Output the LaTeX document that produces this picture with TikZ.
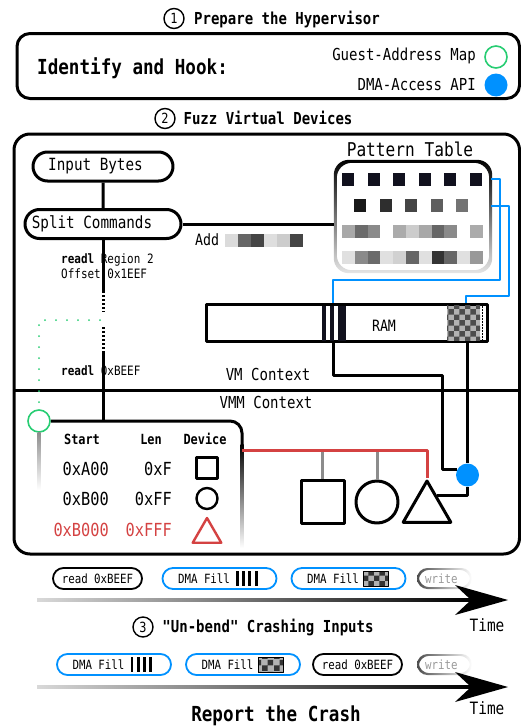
\documentclass[tikz,border=0pt]{standalone}
\usepackage{fontspec}
\setmainfont{DejaVu Sans Mono}[FakeStretch=0.85, Ligatures=TeXOff]
\usetikzlibrary{shapes.misc,shapes.geometric,patterns,calc}
\definecolor{hookgreen}{RGB}{40,205,115}
\definecolor{dmablue}{RGB}{0,145,255}
\definecolor{crashred}{RGB}{212,66,66}
\definecolor{patdark}{RGB}{17,17,30}
\tikzset{
  num/.style={circle, draw, line width=1.4pt, inner sep=0pt, minimum size=20pt,
    font=\fontsize{14}{14}\selectfont},
  heading/.style={font=\fontsize{16.5}{18}\selectfont\bfseries, inner sep=0pt, anchor=mid},
  bighead/.style={font=\fontsize{20.7}{22}\selectfont\bfseries, inner sep=0pt},
  txt/.style={font=\fontsize{16.5}{18}\selectfont, inner sep=0pt},
  cmdtxt/.style={font=\fontsize{12.9}{14}\selectfont, inner sep=0pt, anchor=mid west},
  pill/.style={rounded rectangle, draw, line width=3pt, minimum height=29pt,
    inner sep=0pt, font=\fontsize{16.8}{18}\selectfont},
  event/.style={rounded rectangle, draw, line width=1.8pt, minimum height=21pt,
    inner sep=0pt, font=\fontsize{12.7}{14}\selectfont},
  dmaevent/.style={event, draw=dmablue, minimum width=114pt},
  readevent/.style={event, minimum width=89pt},
  hd/.style={font=\fontsize{14}{15}\selectfont\bfseries, inner sep=0pt, anchor=mid},
  cell/.style={font=\fontsize{18}{19}\selectfont, inner sep=0pt, anchor=mid east},
  conn/.style={line width=3pt},
  bluelink/.style={line width=2.8pt, draw=dmablue},
  devshape/.style={draw, line width=3pt, inner sep=0pt},
  hookmark/.style={circle, inner sep=0pt, minimum size=22pt},
}
\begin{document}
\begin{tikzpicture}[x=1pt, y=-1pt, line join=round]
\useasboundingbox (0,0) rectangle (521,728);
% step 1: prepare
\node[num] (one) at (174,18.5) {1};
\node[heading] (prep) at (287,22) {Prepare the Hypervisor};
\draw[conn, rounded corners=13pt] (17,33.5) rectangle (519.5,98.5);
\node[bighead, anchor=mid west] (hook) at (37,72) {Identify and Hook:};
\node[txt, anchor=mid east] (gamtxt) at (476,58) {Guest-Address Map};
\node[hookmark, draw=hookgreen, line width=1.6pt] (gam) at (496,57) {};
\node[txt, anchor=mid east] (apitxt) at (476,87.5) {DMA-Access API};
\node[hookmark, fill=dmablue, minimum size=23pt] (api) at (496,85) {};

% step 2: fuzz
\node[num] (two) at (165,118.5) {2};
\node[heading] (fuzz) at (268,122) {Fuzz Virtual Devices};
\draw[conn, rounded corners=16pt] (14,134) rectangle (519.5,554);
\draw[conn] (14,390) -- (519.5,390);
\node[txt, anchor=mid] (vm) at (268,378) {VM Context};
\node[txt, anchor=mid] (vmm) at (266,406) {VMM Context};

\node[pill, minimum width=140pt] (input) at (103,166.5) {Input Bytes\makebox[15pt]{}};
\node[pill, minimum width=156pt] (split) at (103,224) {Split Commands\makebox[22pt]{}};
\draw[conn] (input) -- (split);

% pattern table
\node[minimum width=158pt, minimum height=113pt, inner sep=0pt] (ptab) at (413,216.5) {};
\shade[top color=black, bottom color=black!10, even odd rule, rounded corners=15pt]
  (ptab.north west) rectangle (ptab.south east)
  ($(ptab.north west)+(3,3)$) rectangle ($(ptab.south east)+(-3,-3)$);
\node[txt, font=\fontsize{19}{20}\selectfont, anchor=mid] (ptabtitle) at (410,153.5) {Pattern Table};
\foreach \i in {0,...,5}
  \fill[patdark] ({342+25.6*\i},173) rectangle +(12,13);
\foreach \c [count=\i from 0] in {90,82,73,63,55}
  \fill[black!\c] ({354+25.6*\i},199) rectangle +(12,13);
\foreach \c [count=\i from 0] in {34,58,46,0,33,20,34,60,46,0,33}
  \fill[black!\c] ({342+12.8*\i},225) rectangle +(12.9,13);
\foreach \c [count=\i from 0] in {12,46,58,12,18,60,12,80,60,12,40}
  \fill[black!\c] ({342+12.8*\i},251) rectangle +(12.9,13);
\draw[conn] (split.east) -- (split.east -| ptab.west);

\node[txt, font=\fontsize{15.6}{17}\selectfont, anchor=mid west] (add) at (195,243) {Add};
\foreach \c [count=\i from 0] in {14,60,73,13,20,73}
  \fill[black!\c] ({225+13*\i},234) rectangle +(13.1,13);

% commands down to the table
\coordinate (tabtop) at (103,421);
\draw[conn] (split.south) -- (103,291);
\draw[conn, dash pattern=on 2pt off 2pt] (103,291) -- (103,312);
\draw[conn, dash pattern=on 2pt off 2pt] (103,327) -- (103,352);
\draw[conn] (103,352) -- (tabtop);
\node[cmdtxt] (cmd1) at (61,261) {\textbf{readl} Region 2};
\node[cmdtxt] (cmd1b) at (61,275.5) {Offset 0x1EEF};
\node[cmdtxt] (cmd2) at (61,372.5) {\textbf{readl} 0xBEEF};

% guest-address map hook
\node[hookmark, draw=hookgreen, line width=1.6pt] (gpa) at (39,421) {};
\draw[hookgreen, line width=2pt, line cap=round, dash pattern=on 0pt off 11pt]
  (100,320) -- (39,320) -- (gpa.north);
\draw[conn, rounded corners=12pt] (gpa.east) -- (242,421) -- (242,445);
\shade[top color=black, bottom color=white] (240.5,444) rectangle (243.5,548);
\shade[top color=black!45, bottom color=white] (37.5,432) rectangle (40.5,490);

% address table
\node[hd] (hstart) at (82,442) {Start};
\node[hd] (hlen) at (151,442) {Len};
\node[hd] (hdev) at (205,442) {Device};
\node[cell] (start1) at (109,473) {0xA00};
\node[cell] (len1) at (172,473) {0xF};
\node[cell] (start2) at (109,503) {0xB00};
\node[cell] (len2) at (172,503) {0xFF};
\node[cell, crashred] (start3) at (109,534) {0xB000};
\node[cell, crashred] (len3) at (172,534) {0xFFF};
\node[devshape, line width=2.4pt, minimum size=21pt] (isq) at (207,468) {};
\node[devshape, line width=2.4pt, circle, minimum size=21pt] (ici) at (207,498.5) {};
\node[devshape, line width=2.4pt, draw=crashred, regular polygon, regular polygon sides=3,
  minimum size=33pt] (itri) at (207,534.5) {};

% devices
\node[devshape, minimum size=43pt] (dsq) at (322.5,502) {};
\node[devshape, circle, minimum size=42pt] (dci) at (377,502) {};
\node[devshape, regular polygon, regular polygon sides=3, minimum size=55pt] (dtri) at (427,508.5) {};
\coordinate (tabout) at (242,450);
\draw[conn, black!45] (dsq.north |- tabout) -- (dsq.north);
\draw[conn, black!45] (dci.north |- tabout) -- (dci.north);
\draw[conn, crashred] (tabout) -| (dtri.corner 1);

% RAM
\coordinate (pat1) at (491,179);
\coordinate (pat2) at (491,206);
\coordinate (stripetop) at (333,304);
\coordinate (chktop) at (466,304);
\draw[bluelink] (pat1) -| (500,280) -| (stripetop);
\draw[bluelink] (pat2) -| (509,296) -| (chktop);
\node[draw, conn, minimum width=281.5pt, minimum height=37.5pt, inner sep=0pt] (ram) at (347,323) {};
\fill[patdark] (322,305.5) rectangle (326,340.5);
\fill[patdark] (329.5,305.5) rectangle (334,340.5);
\fill[patdark] (338,305.5) rectangle (346,340.5);
\fill[black!30] (447,305.5) rectangle (480,340.5);
\fill[pattern=checkerboard, pattern color=black!70] (447,305.5) rectangle (480,340.5);
\draw[line width=0.7pt, dash pattern=on 2pt off 1pt] (482,305.5) -- (482,340.5);
\node[txt, font=\fontsize{15.6}{17}\selectfont, anchor=mid] (ramtxt) at (384,329) {RAM};

% DMA hook
\node[hookmark, fill=dmablue, minimum size=23pt] (dmahook) at (467.5,475) {};
\coordinate (stripebot) at (333,342);
\coordinate (chkbot) at (467.5,342);
\draw[conn] (stripebot) |- (442,375) |- (dmahook.150);
\draw[conn] (chkbot) -- (dmahook.north);
\draw[conn] ($(dtri.corner 1)!0.38!(dtri.corner 3)$) -| (dmahook.south);

% timeline while fuzzing
\node[readevent] (read1) at (97.5,578.5) {read 0xBEEF};
\node[dmaevent] (bars1) at (219.5,578.5) {DMA Fill\makebox[31pt]{}};
\node[dmaevent] (chk1) at (348.5,578.5) {DMA Fill\makebox[31pt]{}};
\node[event, draw=none, anchor=west, text=black!40] (write1) at (423,578.5) {write};
\shade[left color=black!70, right color=white, even odd rule, rounded corners=10.5pt]
  (417,568) rectangle (472,589) (418.8,569.8) rectangle (470.2,587.2);
\shade[left color=black!15, middle color=black!90, right color=black] (37,598.5) rectangle (472,601.5);
\fill (508,600) -- (455,585) -- (471,600) -- (455,615) -- cycle;
\node[txt, font=\fontsize{17}{18}\selectfont, anchor=mid] (time1) at (487,628.5) {Time};

% step 3: un-bend
\node[num] (three) at (143,627) {3};
\node[heading] (unbend) at (268,630) {"Un-bend" Crashing Inputs};
\node[dmaevent] (bars2) at (114,664.5) {DMA Fill\makebox[31pt]{}};
\node[dmaevent] (chk2) at (243,664.5) {DMA Fill\makebox[31pt]{}};
\node[readevent] (read2) at (357.5,664.5) {read 0xBEEF};
\node[event, draw=none, anchor=west, text=black!40] (write2) at (423,664.5) {write};
\shade[left color=black!70, right color=white, even odd rule, rounded corners=10.5pt]
  (417,654) rectangle (472,675) (418.8,655.8) rectangle (470.2,673.2);
\shade[left color=black!15, middle color=black!90, right color=black] (37,685.5) rectangle (472,688.5);
\fill (508,687) -- (455,672) -- (471,687) -- (455,702) -- cycle;
\node[txt, font=\fontsize{17}{18}\selectfont, anchor=mid] (time2) at (487,711.5) {Time};

% icons in the DMA events
\foreach \n in {bars1,bars2}
  \foreach \k in {0,...,3}
    \fill ($(\n)+(16.5+6.2*\k,-7.5)$) rectangle +(2.9,15);
\foreach \n in {chk1,chk2} {
  \fill[black!30] ($(\n)+(15,-7.5)$) rectangle +(25,15);
  \fill[pattern=checkerboard, pattern color=black!80] ($(\n)+(15,-7.5)$) rectangle +(25,15);
  \draw[line width=0.8pt] ($(\n)+(15,-7.5)$) rectangle +(25,15);
}

\node[bighead, anchor=mid] (report) at (276,719) {Report the Crash};
\end{tikzpicture}
\end{document}
